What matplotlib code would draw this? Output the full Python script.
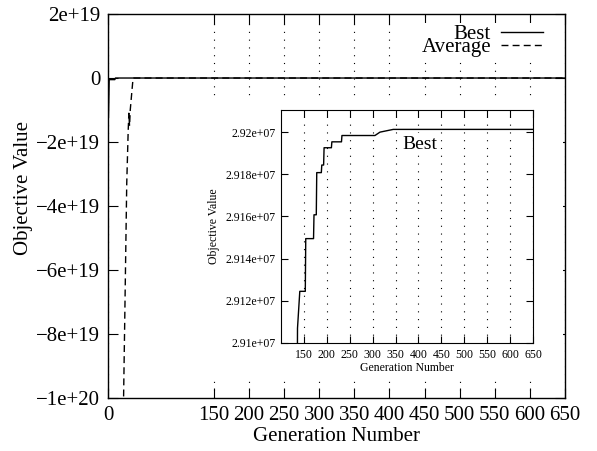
"""Best and average objective value per generation, with a zoomed inset"""

import matplotlib

matplotlib.use("Agg")
from matplotlib import pyplot as plt


# best individual per generation (step changes only)
best_gen = [0, 1, 9, 10, 134, 136, 141, 153, 154, 171, 172, 177, 178, 188,
            189, 193, 194, 210, 211, 232, 233, 305, 316, 345, 650]
best_val = [-1.22e19, -5e17, -5e17, 2.88e7, 2.9e7, 2.9107e7, 2.91245e7,
            2.91245e7, 2.91495e7, 2.91495e7, 2.91608e7, 2.91608e7,
            2.91808e7, 2.91808e7, 2.91844e7, 2.91844e7, 2.91926e7,
            2.91926e7, 2.91954e7, 2.91954e7, 2.91984e7, 2.91984e7,
            2.92e7, 2.92013e7, 2.92013e7]

# population average per generation
avg_gen = [0, 20, 23, 26, 28, 29, 30, 31, 33, 35, 36, 650]
avg_val = [-3e20, -1.22e20, -7.8e19, -3.3e19, -1.7e19, -1.1e19, -1.5e19,
           -1.0e19, -5e18, -5e16, 2.7e7, 2.9e7]

main_xticks = [0, 150, 200, 250, 300, 350, 400, 450, 500, 550, 600, 650]
main_yticks = [2e19, 0, -2e19, -4e19, -6e19, -8e19, -1e20]
main_ylabels = ["2e+19", "0", "\u22122e+19", "\u22124e+19", "\u22126e+19",
                "\u22128e+19", "\u22121e+20"]

inset_xticks = [150, 200, 250, 300, 350, 400, 450, 500, 550, 600, 650]
inset_yticks = [2.91e7, 2.912e7, 2.914e7, 2.916e7, 2.918e7, 2.92e7]
inset_ylabels = ["2.91e+07", "2.912e+07", "2.914e+07", "2.916e+07",
                 "2.918e+07", "2.92e+07"]

plt.rcParams["font.family"] = ["Liberation Serif", "DejaVu Serif"]

DOTS = (0, (1, 6))
DASH = (0, (5, 3))

fig = plt.figure(figsize=(5.97, 4.51), dpi=100)

# main axes
axis = fig.add_axes([0.1817, 0.1175, 0.7647, 0.8514])
axis.plot(best_gen, best_val, color="black", lw=1.0, label="Best")
axis.plot(avg_gen, avg_val, color="black", lw=1.0, ls=DASH, label="Average")
axis.set_xlim(0, 650)
axis.set_ylim(-1e20, 2e19)
axis.set_xticks(main_xticks)
axis.set_yticks(main_yticks, main_ylabels)
axis.tick_params(direction="in", length=7, width=0.8, top=True, right=True,
                 labelsize=15, pad=6)
axis.grid(axis="x", color="black", lw=0.8, ls=DOTS)
axis.set_axisbelow(True)
axis.set_xlabel("Generation Number", fontsize=15, labelpad=1)
axis.set_ylabel("Objective Value", fontsize=15)
axis.yaxis.set_label_coords(-0.165, 0.547)
for spine in axis.spines.values():
    spine.set_linewidth(1.0)
legend = axis.legend(loc="upper right", bbox_to_anchor=(0.977, 1.003),
                     markerfirst=False, fontsize=15, handlelength=2.0,
                     handletextpad=0.5, labelspacing=-0.3, borderpad=0.05,
                     frameon=True, facecolor="white", edgecolor="none",
                     framealpha=1, fancybox=False)
legend.set_zorder(2.4)

# blank panel that clears the area behind the inset and its labels
blank = fig.add_axes([0.3434, 0.1641, 0.5997, 0.623])
blank.set_xticks([])
blank.set_yticks([])
for spine in blank.spines.values():
    spine.set_visible(False)

# inset zoomed on the converged part
inset = fig.add_axes([0.4707, 0.2395, 0.4221, 0.5166])
inset.plot(best_gen, best_val, color="black", lw=1.0)
inset.set_xlim(100, 650)
inset.set_ylim(2.91e7, 2.92105e7)
inset.set_xticks(inset_xticks)
inset.set_yticks(inset_yticks, inset_ylabels)
inset.tick_params(direction="in", length=5, width=0.8, top=True, right=True,
                  labelsize=8.5, pad=4)
inset.grid(axis="x", color="black", lw=0.8, ls=DOTS)
inset.set_axisbelow(True)
inset.set_xlabel("Generation Number", fontsize=8.5, labelpad=1)
inset.set_ylabel("Objective Value", fontsize=8.5, labelpad=4)
inset.text(0.552, 0.854, "Best", transform=inset.transAxes, fontsize=14,
           ha="center", va="center",
           bbox=dict(facecolor="white", edgecolor="none", pad=2))

fig.savefig("out.png", dpi=100)
